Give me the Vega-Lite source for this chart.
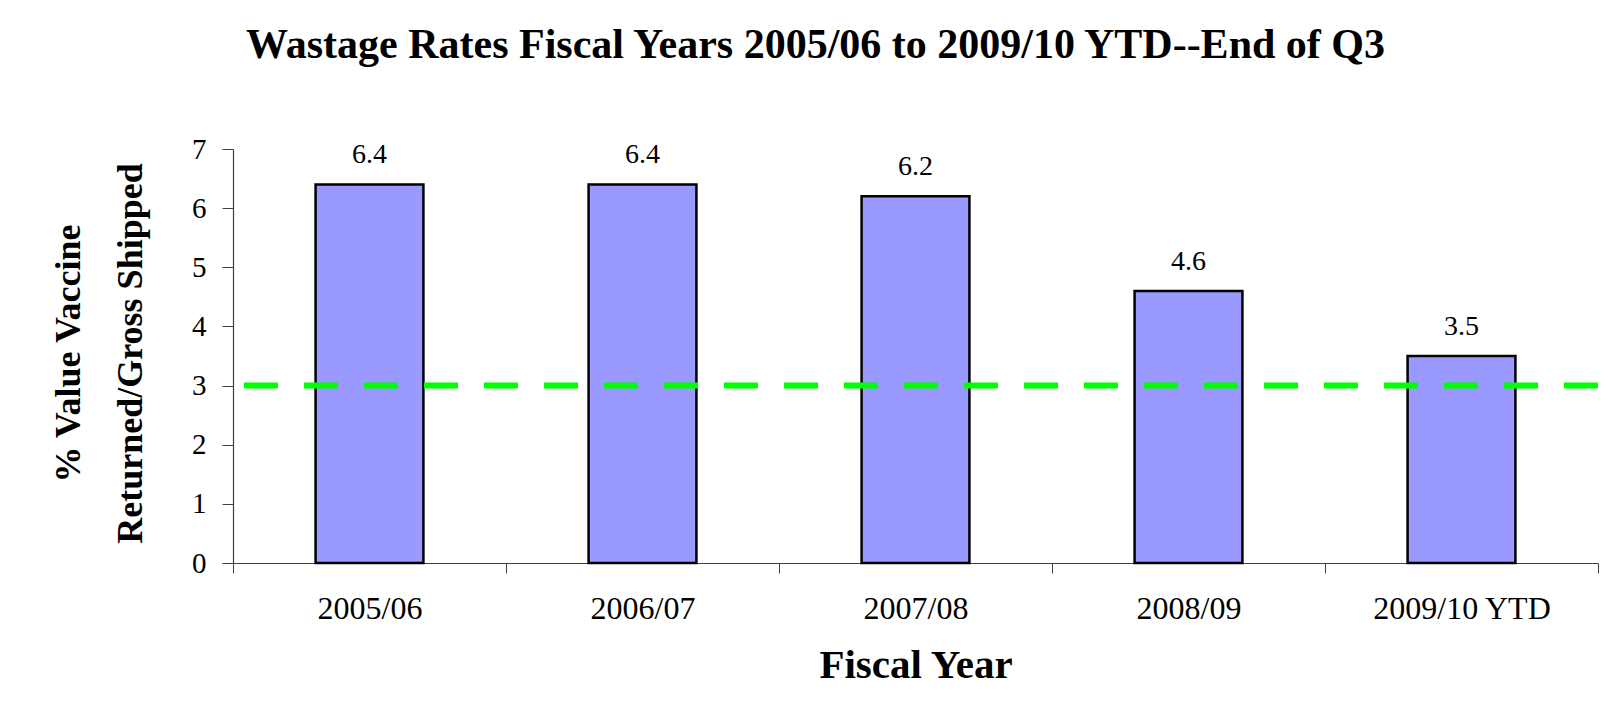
{
  "$schema": "https://vega.github.io/schema/vega-lite/v6.json",
  "width": 1365,
  "height": 414,
  "autosize": "none",
  "padding": {"left": 233, "top": 149, "right": 16, "bottom": 154},
  "background": "white",
  "config": {
    "font": "Liberation Serif",
    "view": {"stroke": null}
  },
  "title": {
    "text": "Wastage Rates Fiscal Years 2005/06 to 2009/10 YTD--End of Q3",
    "font": "Liberation Serif",
    "fontSize": 42,
    "fontWeight": "bold",
    "color": "black",
    "anchor": "middle",
    "baseline": "alphabetic",
    "offset": 35,
    "dx": -100
  },
  "data": {
    "values": [
      {"year": "2005/06", "rate": 6.4},
      {"year": "2006/07", "rate": 6.4},
      {"year": "2007/08", "rate": 6.2},
      {"year": "2008/09", "rate": 4.6},
      {"year": "2009/10 YTD", "rate": 3.5}
    ]
  },
  "layer": [
    {
      "mark": {
        "type": "bar",
        "fill": "#9999FF",
        "stroke": "black",
        "strokeWidth": 2.5,
        "width": {"band": 0.395}
      },
      "encoding": {
        "x": {
          "field": "year",
          "type": "nominal",
          "sort": null,
          "scale": {"paddingInner": 0, "paddingOuter": 0},
          "axis": {
            "title": "Fiscal Year",
            "titleFont": "Liberation Serif",
            "titleFontSize": 41,
            "titleFontWeight": "bold",
            "titleColor": "black",
            "titleBaseline": "alphabetic",
            "titleY": 114,
            "labelFont": "Liberation Serif",
            "labelFontSize": 32,
            "labelColor": "black",
            "labelAngle": 0,
            "labelPadding": 20,
            "tickBand": "extent",
            "tickSize": 10,
            "tickColor": "#404040",
            "domainColor": "#404040",
            "tickWidth": 1,
            "domainWidth": 1.2
          }
        },
        "y": {
          "field": "rate",
          "type": "quantitative",
          "scale": {"domain": [0, 7], "nice": false},
          "axis": {
            "title": ["% Value Vaccine", "Returned/Gross Shipped"],
            "titleFont": "Liberation Serif",
            "titleFontSize": 36,
            "titleFontWeight": "bold",
            "titleColor": "black",
            "titleLineHeight": 62,
            "titleAngle": -90,
            "titleAlign": "center",
            "titleBaseline": "middle",
            "titleX": -165,
            "titleY": 204,
            "values": [0, 1, 2, 3, 4, 5, 6, 7],
            "format": "d",
            "grid": false,
            "labelFont": "Liberation Serif",
            "labelFontSize": 29,
            "labelColor": "black",
            "labelPadding": 16,
            "tickSize": 11,
            "tickColor": "#404040",
            "domainColor": "#404040",
            "tickWidth": 1,
            "domainWidth": 1.2
          }
        }
      }
    },
    {
      "mark": {
        "type": "text",
        "font": "Liberation Serif",
        "fontSize": 28,
        "color": "black",
        "baseline": "alphabetic",
        "dy": -21
      },
      "encoding": {
        "x": {"field": "year", "type": "nominal", "sort": null},
        "y": {"field": "rate", "type": "quantitative"},
        "text": {"field": "rate", "type": "quantitative", "format": ".1f"}
      }
    },
    {
      "data": {"values": [{"target": 3}]},
      "mark": {
        "type": "rule",
        "stroke": "#00FF00",
        "strokeWidth": 6,
        "strokeDash": [34, 26]
      },
      "encoding": {
        "y": {"field": "target", "type": "quantitative"}
      }
    }
  ]
}
